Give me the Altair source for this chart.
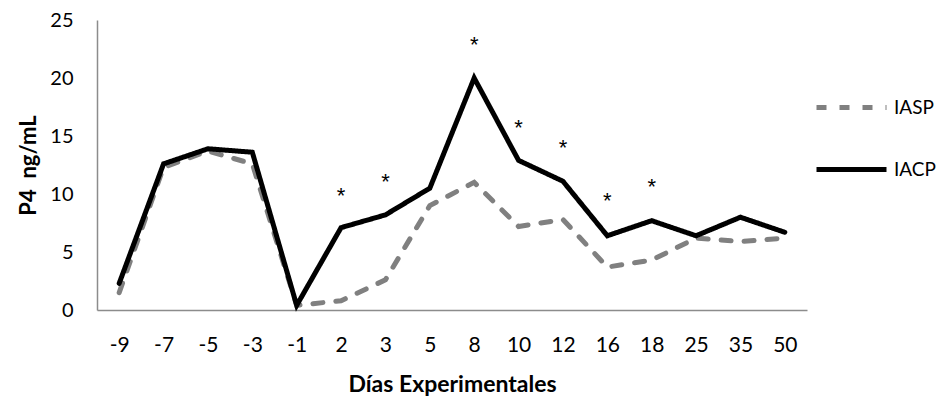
import altair as alt
import pandas as pd

dias = ["-9", "-7", "-5", "-3", "-1", "2", "3", "5", "8", "10", "12", "16", "18", "25", "35", "50"]
iasp = [1.5, 12.3, 13.7, 12.6, 0.4, 0.8, 2.6, 9.0, 11.0, 7.2, 7.8, 3.7, 4.3, 6.2, 5.9, 6.2]
iacp = [2.3, 12.6, 13.9, 13.6, 0.4, 7.1, 8.2, 10.5, 20.0, 12.9, 11.1, 6.4, 7.7, 6.4, 8.0, 6.7]
series = ["IASP", "IACP"]
sig_dias = ["2", "3", "8", "10", "12", "16", "18"]
sig_pos = [10.3, 11.5, 23.3, 16.1, 14.4, 9.8, 11.0]

rows = []
for name, vals in zip(series, [iasp, iacp]):
    for d, v in zip(dias, vals):
        rows.append({"dia": d, "valor": v, "grupo": name})
df = pd.DataFrame(rows)
sig = pd.DataFrame({"dia": sig_dias, "valor": sig_pos, "txt": ["*"] * len(sig_dias)})

FONT = "Lato"

x_enc = alt.X("dia:O", sort=dias, scale=alt.Scale(domain=dias, paddingOuter=0.5),
              axis=alt.Axis(title="Días Experimentales", labelAngle=0, ticks=False,
                            labelPadding=24, labelFontSize=21, labelFont=FONT,
                            labelColor="#000", titleFont=FONT, titleFontSize=23,
                            titleFontWeight="bold", titleColor="#000", titlePadding=18,
                            domainColor="#8c8c8c", domainWidth=1.5))
y_enc = alt.Y("valor:Q", scale=alt.Scale(domain=[0, 25], nice=False),
              axis=alt.Axis(title="P4\u00a0\u00a0ng/mL", values=[0, 5, 10, 15, 20, 25], ticks=False,
                            grid=False, labelPadding=24, labelFontSize=20, labelFont=FONT,
                            labelColor="#000", titleFont=FONT, titleFontSize=22,
                            titleFontWeight="bold", titleColor="#000", titlePadding=9,
                            domainColor="#8c8c8c", domainWidth=1.5))

lines = alt.Chart(df).mark_line(strokeCap="round", strokeJoin="miter").encode(
    x=x_enc,
    y=y_enc,
    color=alt.Color("grupo:N", sort=series,
                    scale=alt.Scale(domain=series, range=["#808080", "#000000"]),
                    legend=alt.Legend(title=None, orient="none", legendX=717, legendY=50,
                                      symbolType="stroke", symbolSize=4900,
                                      symbolStrokeWidth=5, labelFontSize=19,
                                      labelFont=FONT, labelColor="#000", labelOffset=5,
                                      rowPadding=14)),
    strokeDash=alt.StrokeDash("grupo:N", sort=series,
                              scale=alt.Scale(domain=series, range=[[10, 13], [1, 0]]),
                              legend=None),
    strokeWidth=alt.StrokeWidth("grupo:N", scale=alt.Scale(domain=series, range=[5, 5]),
                                legend=None),
    detail="grupo:N",
)

stars = alt.Chart(sig).mark_text(fontSize=22, font="Liberation Sans", color="#000",
                                 baseline="middle", dy=5).encode(
    x=alt.X("dia:O", sort=dias),
    y=alt.Y("valor:Q"),
    text="txt:N",
)

chart = alt.layer(lines, stars).properties(
    width=710, height=290,
    autosize=alt.AutoSizeParams(type="none"),
    padding={"left": 89, "top": 12, "right": 131, "bottom": 86},
    background="white",
).configure_view(stroke=None)

chart.save("out.html", embed_options={"renderer": "svg", "actions": False})
